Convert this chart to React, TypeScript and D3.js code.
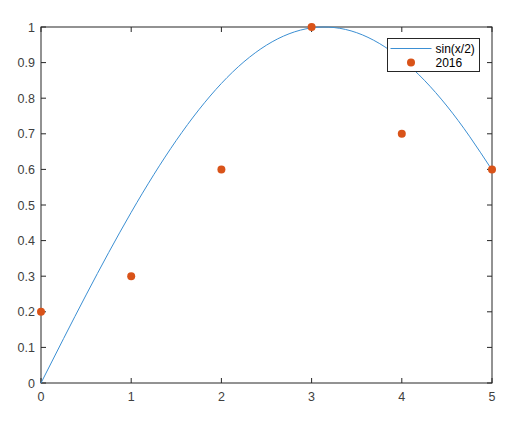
import React from "react";
import { scaleLinear, line, curveNatural, range } from "d3";

// sampled curve sin(x/2), read at x step 0.25
const curveX = range(0, 5.001, 0.25);
const curveY = [
  0, 0.1247, 0.2474, 0.3663, 0.4794, 0.5851, 0.6816, 0.7675, 0.8415, 0.9023,
  0.949, 0.9809, 0.9975, 0.9985, 0.984, 0.954, 0.9093, 0.8504, 0.7781, 0.6932,
  0.5985,
];

const dotX = [0, 1, 2, 3, 4, 5];
const dotY = [0.2, 0.3, 0.6, 1, 0.7, 0.6];

const xTicks = [0, 1, 2, 3, 4, 5];
const yTicks = [0, 0.1, 0.2, 0.3, 0.4, 0.5, 0.6, 0.7, 0.8, 0.9, 1];

const lineName = "sin(x/2)";
const dotName = "2016";

const App = () => {
  const width = 522;
  const height = 422;
  const left = 41;
  const right = 492;
  const top = 27;
  const bottom = 383;
  const tick = 5;
  const axisColor = "#262626";
  const lineColor = "#3b8fd3";
  const dotColor = "#D95319";
  const font = "Helvetica, Arial, 'Liberation Sans', sans-serif";

  const x = scaleLinear().domain([0, 5]).range([left, right]);
  const y = scaleLinear().domain([0, 1]).range([bottom, top]);

  const path = line<number>()
    .x((d, i) => x(curveX[i]))
    .y(d => y(d))
    .curve(curveNatural)(curveY);

  return (
    <svg
      width={width}
      height={height}
      style={{ position: "absolute", left: 0, top: 0, background: "white" }}
    >
      {/* ticks */}
      {xTicks.map(t => (
        <g key={"x" + t}>
          <line x1={x(t)} x2={x(t)} y1={bottom} y2={bottom - tick} stroke={axisColor} />
          <line x1={x(t)} x2={x(t)} y1={top} y2={top + tick} stroke={axisColor} />
          <text
            x={x(t)}
            y={bottom + 18}
            textAnchor="middle"
            fontSize={12.5}
            fontFamily={font}
            fill="#404040"
          >
            {t}
          </text>
        </g>
      ))}
      {yTicks.map(t => (
        <g key={"y" + t}>
          <line x1={left} x2={left + tick} y1={y(t)} y2={y(t)} stroke={axisColor} />
          <line x1={right} x2={right - tick} y1={y(t)} y2={y(t)} stroke={axisColor} />
          <text
            x={left - 6}
            y={y(t) + 4.5}
            textAnchor="end"
            fontSize={12.5}
            fontFamily={font}
            fill="#404040"
          >
            {t}
          </text>
        </g>
      ))}

      <rect
        x={left}
        y={top}
        width={right - left}
        height={bottom - top}
        fill="none"
        stroke={axisColor}
        strokeWidth={1}
      />

      <path d={path || ""} fill="none" stroke={lineColor} strokeWidth={1} />

      {dotX.map((d, i) => (
        <circle key={i} cx={x(d)} cy={y(dotY[i])} r={4} fill={dotColor} />
      ))}

      {/* legend */}
      <g transform="translate(387.5,38.5)">
        <rect width={92} height={33} fill="white" stroke={axisColor} strokeWidth={1} />
        <line x1={3} x2={44} y1={10} y2={10} stroke={lineColor} strokeWidth={1} />
        <text x={48} y={14} fontSize={12} fontFamily={font} fill="#000">
          {lineName}
        </text>
        <circle cx={23.5} cy={24} r={4} fill={dotColor} />
        <text x={48} y={28} fontSize={12} fontFamily={font} fill="#000">
          {dotName}
        </text>
      </g>
    </svg>
  );
};

export default App;
